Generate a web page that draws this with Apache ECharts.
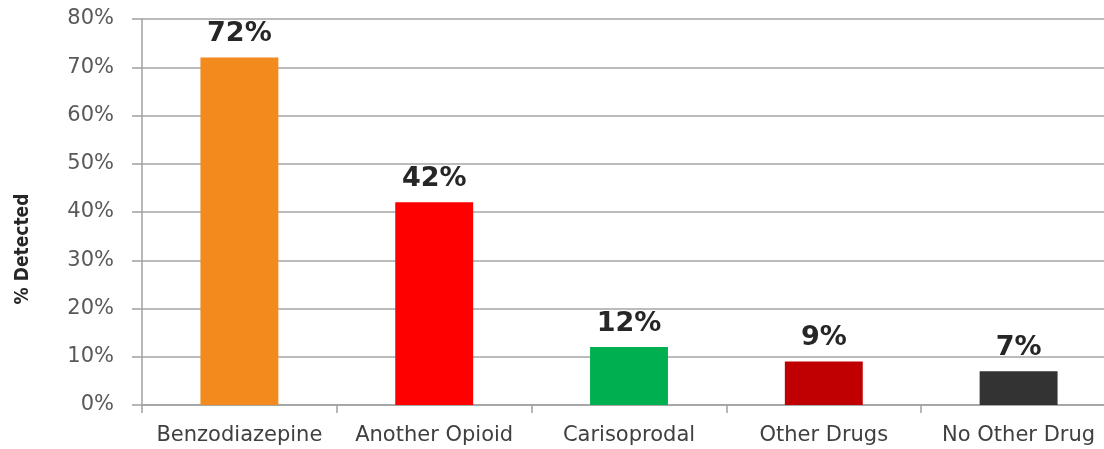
<!DOCTYPE html>
<html><head><meta charset="utf-8">
<script src="https://cdn.jsdelivr.net/npm/echarts@6/dist/echarts.min.js"></script>
<style>html,body{margin:0;padding:0;background:#fff;overflow:hidden;width:1104px;height:449px}#c{width:1116px;height:449px}</style>
</head><body><div id="c"></div>
<script>
const categories = ['Benzodiazepine', 'Another Opioid', 'Carisoprodal', 'Other Drugs', 'No Other Drug'];
const values = [72, 42, 12, 9, 7];
const barColors = ['#F28A1E', '#FF0000', '#00B050', '#C00000', '#333333'];
const yTicks = { min: 0, max: 80, interval: 10 };

const chart = echarts.init(document.getElementById('c'));
chart.setOption({
  animation: false,
  grid: { left: 142, right: 0, top: 19, bottom: 44, containLabel: false },
  xAxis: {
    type: 'category',
    data: categories,
    axisLine: { lineStyle: { color: '#a0a0a0', width: 1.5 } },
    axisTick: { show: true, length: 8, lineStyle: { color: '#a0a0a0', width: 1.5 } },
    axisLabel: { color: '#404040', fontFamily: 'DejaVu Sans', fontSize: 21, margin: 20, interval: 0 }
  },
  yAxis: {
    type: 'value',
    min: yTicks.min, max: yTicks.max, interval: yTicks.interval,
    name: '% Detected',
    nameLocation: 'middle',
    nameGap: 109,
    nameTextStyle: { color: '#262626', fontFamily: "'DejaVu Sans Condensed', 'Liberation Sans', sans-serif", fontWeight: 'bold', fontSize: 19, padding: [0, 74, 0, 0] },
    axisLine: { show: true, lineStyle: { color: '#a0a0a0', width: 1.5 } },
    axisTick: { show: true, length: 10, lineStyle: { color: '#a0a0a0', width: 1.5 } },
    splitLine: { lineStyle: { color: '#a6a6a6', width: 1.5 } },
    axisLabel: { color: '#595959', fontFamily: 'DejaVu Sans', fontSize: 21, margin: 28, formatter: v => v + '%' }
  },
  series: [{
    type: 'bar',
    data: values.map((v, i) => ({ value: v, itemStyle: { color: barColors[i] } })),
    barWidth: '40%',
    label: {
      show: true, position: 'top', distance: 10,
      formatter: p => p.value + '%',
      color: '#262626', fontFamily: 'DejaVu Sans', fontWeight: 'bold', fontSize: 27
    }
  }]
});
</script></body></html>
